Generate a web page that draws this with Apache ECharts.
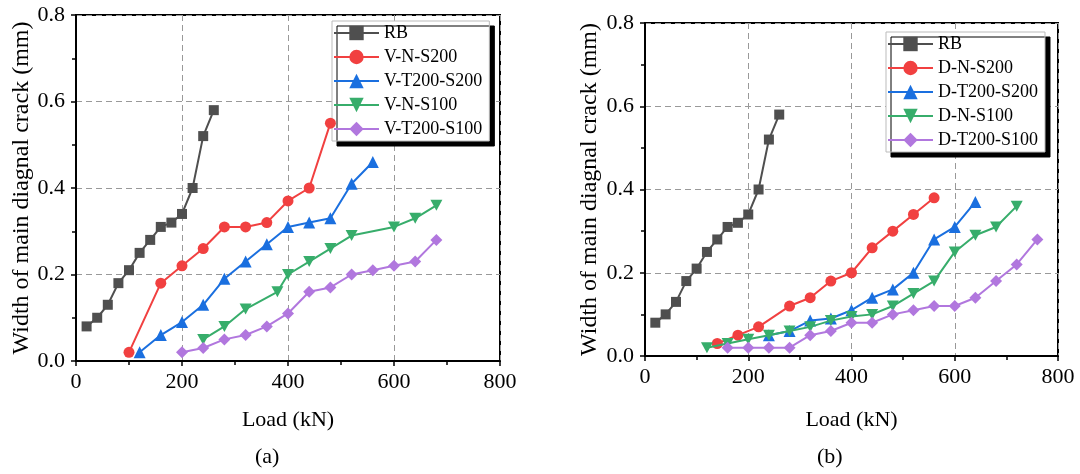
<!DOCTYPE html>
<html>
<head>
<meta charset="utf-8">
<script src="https://cdn.jsdelivr.net/npm/echarts@6.0.0/dist/echarts.min.js"></script>
<style>
html,body{margin:0;padding:0;background:#fff;}
#chart{width:1080px;height:474px;}
</style>
</head>
<body>
<div id="chart"></div>
<script>
// ---------- data ----------
const xTicks = [0, 200, 400, 600, 800];
const yTicks = [0.0, 0.2, 0.4, 0.6, 0.8];

// RB (same specimen in both panels)
const loadRB  = [20, 40, 60, 80, 100, 120, 140, 160, 180, 200, 220, 240, 260];
const crackRB = [0.08, 0.10, 0.13, 0.18, 0.21, 0.25, 0.28, 0.31, 0.32, 0.34, 0.40, 0.52, 0.58];

// panel (a)
const loadVNS200   = [100, 160, 200, 240, 280, 320, 360, 400, 440, 480];
const crackVNS200  = [0.02, 0.18, 0.22, 0.26, 0.31, 0.31, 0.32, 0.37, 0.40, 0.55];
const loadVT200S200  = [120, 160, 200, 240, 280, 320, 360, 400, 440, 480, 520, 560];
const crackVT200S200 = [0.02, 0.06, 0.09, 0.13, 0.19, 0.23, 0.27, 0.31, 0.32, 0.33, 0.41, 0.46];
const loadVNS100   = [240, 280, 320, 380, 400, 440, 480, 520, 600, 640, 680];
const crackVNS100  = [0.05, 0.08, 0.12, 0.16, 0.20, 0.23, 0.26, 0.29, 0.31, 0.33, 0.36];
const loadVT200S100  = [200, 240, 280, 320, 360, 400, 440, 480, 520, 560, 600, 640, 680];
const crackVT200S100 = [0.02, 0.03, 0.05, 0.06, 0.08, 0.11, 0.16, 0.17, 0.20, 0.21, 0.22, 0.23, 0.28];

// panel (b)
const loadDNS200   = [140, 180, 220, 280, 320, 360, 400, 440, 480, 520, 560];
const crackDNS200  = [0.03, 0.05, 0.07, 0.12, 0.14, 0.18, 0.20, 0.26, 0.30, 0.34, 0.38];
const loadDT200S200  = [240, 280, 320, 360, 400, 440, 480, 520, 560, 600, 640];
const crackDT200S200 = [0.05, 0.06, 0.085, 0.09, 0.11, 0.14, 0.16, 0.20, 0.28, 0.31, 0.37];
const loadDNS100   = [120, 160, 200, 240, 280, 320, 360, 400, 440, 480, 520, 560, 600, 640, 680, 720];
const crackDNS100  = [0.02, 0.03, 0.04, 0.05, 0.06, 0.07, 0.085, 0.095, 0.10, 0.12, 0.15, 0.18, 0.25, 0.29, 0.31, 0.36];
const loadDT200S100  = [160, 200, 240, 280, 320, 360, 400, 440, 480, 520, 560, 600, 640, 680, 720, 760];
const crackDT200S100 = [0.02, 0.02, 0.02, 0.02, 0.05, 0.06, 0.08, 0.08, 0.10, 0.11, 0.12, 0.12, 0.14, 0.18, 0.22, 0.28];

const namesA = ['RB', 'V-N-S200', 'V-T200-S200', 'V-N-S100', 'V-T200-S100'];
const namesB = ['RB', 'D-N-S200', 'D-T200-S200', 'D-N-S100', 'D-T200-S100'];

// ---------- styles ----------
const FONT = 'Liberation Serif';
const colors = ['#4F4F4F', '#F14040', '#1A6FDF', '#37AD6B', '#B177DE'];
const symbols = ['rect', 'circle', 'triangle', 'path://M0,0L10,0L5,8.66Z', 'diamond'];
const sizes = [10, 11, 12, [12, 11], 12];

function mk(name, loads, cracks, k, idx) {
  return {
    type: 'line', name: name, xAxisIndex: idx, yAxisIndex: idx,
    data: loads.map((x, i) => [x, cracks[i]]),
    symbol: symbols[k], symbolSize: sizes[k], showSymbol: true,
    lineStyle: { width: 2, color: colors[k] },
    itemStyle: { color: colors[k] },
    emphasis: { disabled: true },
    clip: false, z: 3 + k
  };
}

function xAxisCfg(idx, gap) {
  return {
    type: 'value', gridIndex: idx, min: xTicks[0], max: xTicks[xTicks.length - 1],
    interval: xTicks[1] - xTicks[0],
    name: 'Load (kN)', nameLocation: 'middle', nameGap: gap,
    nameTextStyle: { fontFamily: FONT, fontSize: 22, color: '#000' },
    axisLine: { show: true, lineStyle: { color: '#000', width: 2 } },
    axisTick: { show: true, inside: false, length: 5, lineStyle: { color: '#000', width: 1.5 } },
    minorTick: { show: true, splitNumber: 2, length: 4, lineStyle: { color: '#000', width: 1.5 } },
    axisLabel: { fontFamily: FONT, fontSize: 22, color: '#000', margin: 10 },
    splitLine: { show: true, lineStyle: { color: '#999', type: [6, 4], width: 1 } }
  };
}
function yAxisCfg(idx, gap) {
  return {
    type: 'value', gridIndex: idx, min: yTicks[0], max: yTicks[yTicks.length - 1],
    interval: 0.2,
    name: 'Width of main diagnal crack (mm)', nameLocation: 'middle', nameGap: gap,
    nameTextStyle: { fontFamily: FONT, fontSize: 24, color: '#000' },
    axisLine: { show: true, lineStyle: { color: '#000', width: 2 } },
    axisTick: { show: true, inside: false, length: 5, lineStyle: { color: '#000', width: 1.5 } },
    minorTick: { show: true, splitNumber: 2, length: 4, lineStyle: { color: '#000', width: 1.5 } },
    axisLabel: { fontFamily: FONT, fontSize: 22, color: '#000', margin: 11,
      formatter: v => v.toFixed(1) },
    splitLine: { show: true, lineStyle: { color: '#999', type: [6, 4], width: 1 } }
  };
}
function legendCfg(names, left, top) {
  return {
    data: names, orient: 'vertical', left: left, top: top,
    itemWidth: 45, itemHeight: 18, itemGap: 6,
    padding: [3, 7, 3, 1],
    backgroundColor: '#fff', borderColor: '#bbb', borderWidth: 1,
    shadowColor: '#000', shadowBlur: 0, shadowOffsetX: 5, shadowOffsetY: 5,
    selectedMode: false,
    textStyle: { fontFamily: FONT, fontSize: 18, color: '#000' }
  };
}

const option = {
  animation: false,
  backgroundColor: '#fff',
  grid: [
    { left: 76, top: 15, width: 424, height: 346, show: true, borderColor: '#000', borderWidth: 2, containLabel: false },
    { left: 645, top: 23, width: 413, height: 333, show: true, borderColor: '#000', borderWidth: 2, containLabel: false }
  ],
  xAxis: [xAxisCfg(0, 48), xAxisCfg(1, 53)],
  yAxis: [yAxisCfg(0, 42), yAxisCfg(1, 43)],
  legend: [legendCfg(namesA, 332, 21), legendCfg(namesB, 886, 32)],
  graphic: [
    { type: 'text', left: 255, top: 446, style: { text: '(a)', font: '22px ' + FONT, fill: '#000' } },
    { type: 'text', left: 817, top: 446, style: { text: '(b)', font: '22px ' + FONT, fill: '#000' } }
  ],
  series: [
    mk('RB', loadRB, crackRB, 0, 0),
    mk('V-N-S200', loadVNS200, crackVNS200, 1, 0),
    mk('V-T200-S200', loadVT200S200, crackVT200S200, 2, 0),
    mk('V-N-S100', loadVNS100, crackVNS100, 3, 0),
    mk('V-T200-S100', loadVT200S100, crackVT200S100, 4, 0),
    mk('RB', loadRB, crackRB, 0, 1),
    mk('D-N-S200', loadDNS200, crackDNS200, 1, 1),
    mk('D-T200-S200', loadDT200S200, crackDT200S200, 2, 1),
    mk('D-N-S100', loadDNS100, crackDNS100, 3, 1),
    mk('D-T200-S100', loadDT200S100, crackDT200S100, 4, 1)
  ]
};

const chart = echarts.init(document.getElementById('chart'), null, { renderer: 'canvas' });
chart.setOption(option);
</script>
</body>
</html>
